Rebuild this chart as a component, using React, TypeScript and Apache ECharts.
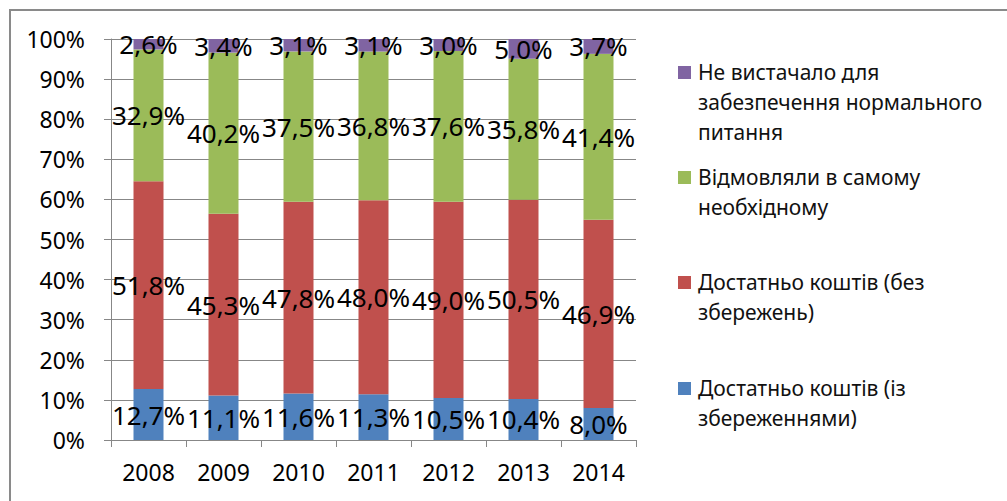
import React, { useEffect, useRef } from "react";
import * as echarts from "echarts";

const years = ["2008", "2009", "2010", "2011", "2012", "2013", "2014"];
const withSavings = [12.7, 11.1, 11.6, 11.3, 10.5, 10.4, 8.0];
const withoutSavings = [51.8, 45.3, 47.8, 48.0, 49.0, 50.5, 46.9];
const refusedEssentials = [32.9, 40.2, 37.5, 36.8, 37.6, 35.8, 41.4];
const notEnoughFood = [2.6, 3.4, 3.1, 3.1, 3.0, 5.0, 3.7];

const seriesNames = [
  "Достатньо коштів (із збереженнями)",
  "Достатньо коштів (без збережень)",
  "Відмовляли в самому необхідному",
  "Не вистачало для забезпечення нормального питання",
];
const legendLabels = [
  "Достатньо коштів (із\nзбереженнями)",
  "Достатньо коштів (без\nзбережень)",
  "Відмовляли в самому\nнеобхідному",
  "Не вистачало для\nзабезпечення нормального\nпитання",
];
const colors = ["#4F81BD", "#C0504D", "#9BBB59", "#8064A2"];

const FONT = "'Noto Sans', 'DejaVu Sans', sans-serif";

export default function App() {
  const ref = useRef<HTMLDivElement>(null);

  useEffect(() => {
    if (!ref.current) return;
    const chart = echarts.init(ref.current, undefined, { renderer: "svg" });
    const allSeries = [withSavings, withoutSavings, refusedEssentials, notEnoughFood];
    const totals = years.map((_, i) => allSeries.reduce((s, arr) => s + arr[i], 0));
    const fmt = (v: number) => v.toFixed(1).replace(".", ",") + "%";

    const series = allSeries.map((arr, k) => ({
      name: seriesNames[k],
      type: "bar" as const,
      stack: "total",
      barWidth: 30,
      itemStyle: { color: colors[k] },
      label: {
        show: true,
        position: "inside" as const,
        color: "#000",
        fontSize: 26,
        fontFamily: FONT,
        formatter: (p: any) => fmt(p.data.raw),
      },
      data: arr.map((v, i) => ({ value: (v / totals[i]) * 100, raw: v })),
    }));

    // custom legend (top series first), marker aligned with first text line
    const legendTops = [58, 163, 268, 374];
    const legendGraphics: any[] = [];
    [3, 2, 1, 0].forEach((k, idx) => {
      const top = legendTops[idx];
      legendGraphics.push({
        type: "rect",
        shape: { x: 678, y: top + 8, width: 13, height: 13 },
        style: { fill: colors[k] },
      });
      legendGraphics.push({
        type: "text",
        x: 698,
        y: top - 1,
        style: {
          text: legendLabels[k],
          fill: "#111",
          font: `21px ${FONT}`,
          lineHeight: 30,
          verticalAlign: "top",
          align: "left",
        },
      });
    });

    chart.setOption({
      animation: false,
      backgroundColor: "#fff",
      textStyle: { fontFamily: FONT },
      grid: { left: 111, right: 371, top: 39, bottom: 61 },
      xAxis: {
        type: "category",
        data: years,
        axisLine: { show: true, lineStyle: { color: "#878787", width: 1 } },
        axisTick: { show: true, length: 7, lineStyle: { color: "#878787" } },
        axisLabel: { color: "#000", fontSize: 23, margin: 20, fontFamily: FONT },
      },
      yAxis: {
        type: "value",
        min: 0,
        max: 100,
        interval: 10,
        axisLine: { show: true, lineStyle: { color: "#878787", width: 1 } },
        axisTick: { show: true, length: 7, inside: false, lineStyle: { color: "#878787" } },
        splitLine: { show: true, lineStyle: { color: "#878787", width: 1 } },
        axisLabel: { color: "#000", fontSize: 23, margin: 26, formatter: "{value}%", fontFamily: FONT },
      },
      series,
      graphic: [
        {
          type: "rect",
          shape: { x: 10, y: 10, width: 1100, height: 600 },
          style: { fill: "none", stroke: "#8a8a8a", lineWidth: 2 },
          silent: true,
          z: -1,
        },
        ...legendGraphics,
      ],
    });
    return () => chart.dispose();
  }, []);

  return (
    <div
      ref={ref}
      style={{ position: "fixed", left: 0, top: 0, width: 1007, height: 501 }}
    />
  );
}
